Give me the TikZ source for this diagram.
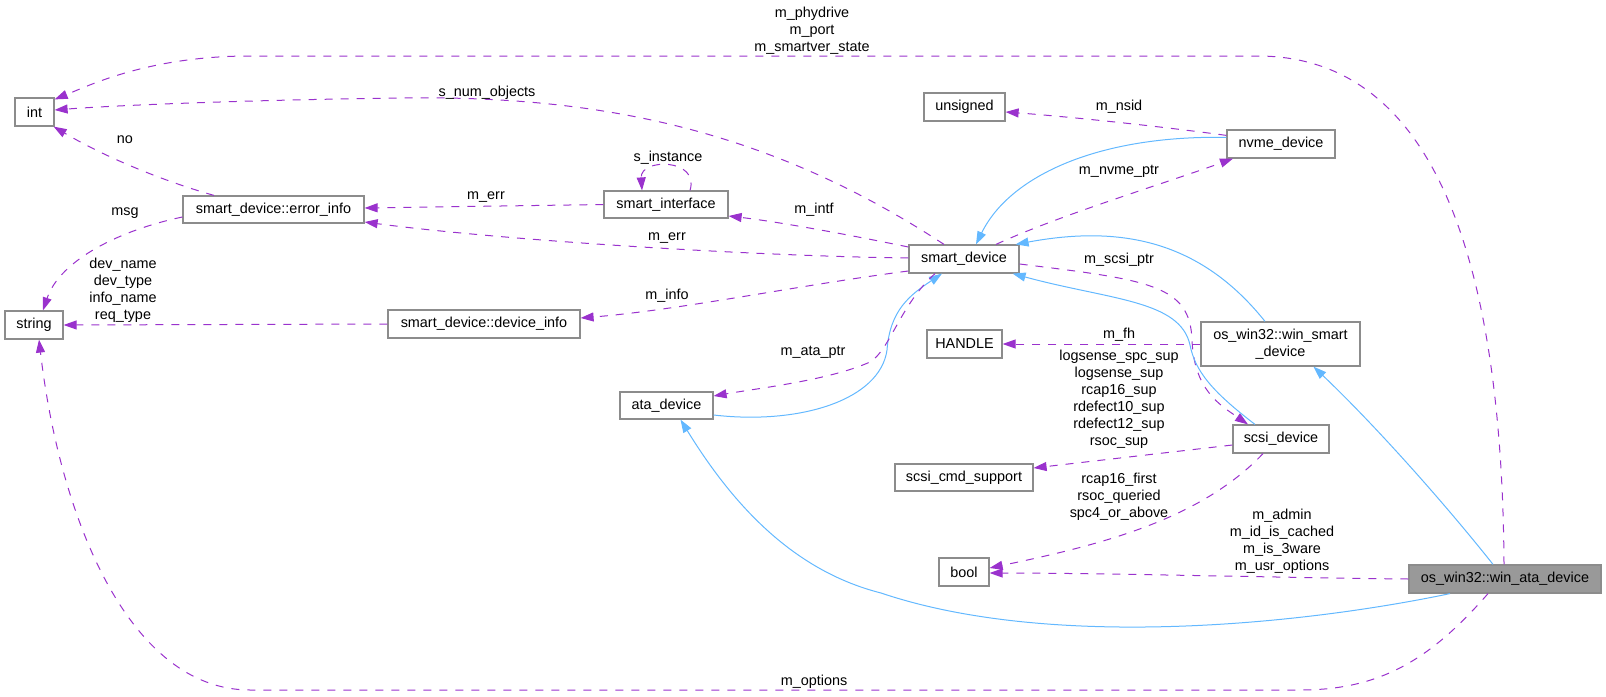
\documentclass[tikz,border=0pt]{standalone}
\usepackage{fontspec}
\setmainfont{Liberation Sans}
\usetikzlibrary{arrows.meta}
\definecolor{purp}{HTML}{9A32CD}
\definecolor{blu}{HTML}{63B8FF}
\definecolor{boxgray}{HTML}{8C8C8C}
\definecolor{rootfill}{HTML}{999999}
\newcommand{\nfont}{\fontsize{14.4}{17}\selectfont}
\tikzset{
  box/.style={draw=boxgray, fill=white, line width=1.2pt, inner sep=0pt, minimum height=28pt, font=\nfont, align=center},
  rootbox/.style={box, fill=rootfill},
  dep/.style={draw=purp, line width=1pt, dash pattern=on 8pt off 8pt, -{Triangle[length=13pt,width=9pt,fill=purp]}},
  inh/.style={draw=blu, line width=1pt, -{Triangle[length=13pt,width=9pt,fill=blu]}},
  lab/.style={font=\nfont, align=center, inner sep=0pt}
}
\begin{document}
\begin{tikzpicture}[x=1pt,y=-1pt]
\useasboundingbox (0,0) rectangle (1606,696);
% nodes
\node[box, minimum width=39pt] (int) at (34.5,112) {int};
\node[box, minimum width=58pt] (string) at (34,325) {string};
\node[box, minimum width=181pt, minimum height=27pt] (errinfo) at (273.5,209.5) {smart\_device::error\_info};
\node[box, minimum width=192pt] (devinfo) at (484,324) {smart\_device::device\_info};
\node[box, minimum width=81pt] (unsigned) at (964.5,107) {unsigned};
\node[box, minimum width=124pt, minimum height=27pt] (smartif) at (666,204.5) {smart\_interface};
\node[box, minimum width=110pt] (smartdev) at (964,259) {smart\_device};
\node[box, minimum width=75pt] (handle) at (964.5,344) {HANDLE};
\node[box, minimum width=108pt] (nvme) at (1281,144) {nvme\_device};
\node[box, minimum width=159pt, minimum height=44pt] (winsmart) at (1280.5,344) {os\_win32::win\_smart\\\_device};
\node[box, minimum width=93pt, minimum height=27pt] (atadev) at (666.5,405.5) {ata\_device};
\node[box, minimum width=138pt, minimum height=27pt] (scsicmd) at (964,477.5) {scsi\_cmd\_support};
\node[box, minimum width=50pt] (bool) at (964,572) {bool};
\node[box, minimum width=96pt] (scsidev) at (1281,439) {scsi\_device};
\node[rootbox, minimum width=192pt] (winata) at (1505,579) {os\_win32::win\_ata\_device};

% edges
\draw[dep] ([xshift=-1pt]winata.north) .. controls (1502,250) and (1430,58) .. (1260,56) -- (250,56) .. controls (150,56) and (90,85) .. ([yshift=-2pt]int.north east);
\draw[dep] ([xshift=-20pt]smartdev.north) .. controls (770,130) and (600,95) .. (400,98) .. controls (250,100) and (120,105) .. ([yshift=2pt]int.east);
\draw[dep] ([xshift=-59.5pt]errinfo.north) .. controls (170,183) and (110,160) .. ([xshift=-1pt]int.south east);
\draw[dep] ([yshift=-7.5pt]errinfo.west) .. controls (120,230) and (60,260) .. ([xshift=9pt]string.north);
\draw[dep] (devinfo.west) -- (string.east);
\draw[dep] (smartif.west) -- ([yshift=1.5pt]errinfo.east);
\draw[dep] ([yshift=1pt]smartdev.west) .. controls (750,256) and (500,240) .. ([yshift=-12.5pt]errinfo.east);
\draw[dep] ([xshift=24pt]smartif.north) .. controls (700,158) and (640,158) .. ([xshift=-24pt]smartif.north);
\draw[dep] ([yshift=12pt]smartdev.west) .. controls (850,235) and (780,222) .. ([yshift=-11.5pt]smartif.east);
\draw[dep] ([yshift=-12pt]smartdev.west) .. controls (800,285) and (680,310) .. ([yshift=6pt]devinfo.east);
\draw[dep] ([yshift=-6pt]nvme.north west) .. controls (1150,125) and (1060,116) .. ([yshift=-5pt]unsigned.east);
\draw[inh] ([yshift=-8pt]nvme.north west) .. controls (1100,135) and (1010,175) .. ([xshift=12pt]smartdev.north);
\draw[dep] ([xshift=32pt]smartdev.north) .. controls (1060,215) and (1160,185) .. ([xshift=-48pt]nvme.south);
\draw[inh] ([xshift=-15.5pt]winsmart.north) .. controls (1200,240) and (1120,225) .. ([xshift=-4pt]smartdev.north east);
\draw[dep] ([yshift=-5pt]smartdev.east) .. controls (1150,280) and (1190,285) .. (1192,340) .. controls (1194,390) and (1220,405) .. ([xshift=-33pt]scsidev.north);
\draw[inh] ([xshift=-26pt]scsidev.north) .. controls (1210,390) and (1195,370) .. (1190,345) .. controls (1180,300) and (1110,300) .. ([xshift=-7pt]smartdev.south east);
\draw[dep] (winsmart.west) -- (handle.east);
\draw[dep] ([yshift=-6pt]scsidev.west) -- ([yshift=9.5pt]scsicmd.east);
\draw[dep] ([xshift=-18pt]scsidev.south) .. controls (1200,520) and (1100,545) .. ([yshift=4pt]bool.east);
\draw[dep] (winata.west) .. controls (1300,578) and (1100,573) .. ([yshift=-1pt]bool.east);
\draw[inh] ([yshift=-9.5pt]atadev.east) .. controls (800,425) and (880,400) .. (887,350) .. controls (890,310) and (910,295) .. ([xshift=-22pt]smartdev.south);
\draw[dep] ([xshift=-29pt]smartdev.south) .. controls (900,305) and (890,350) .. (870,362) .. controls (830,380) and (760,388) .. ([yshift=9.5pt]atadev.east);
\draw[inh] ([xshift=-55pt]winata.south) .. controls (1300,625) and (1050,650) .. (881,593) .. controls (790,570) and (730,500) .. ([xshift=14pt]atadev.south);
\draw[inh] ([xshift=-12pt]winata.north) .. controls (1450,510) and (1380,430) .. ([xshift=33pt]winsmart.south);
\draw[dep] ([xshift=-17pt]winata.south) .. controls (1430,660) and (1380,690) .. (1300,690) -- (250,690) .. controls (130,690) and (60,520) .. ([xshift=5pt]string.south);

% labels
\node[lab] (l1) at (812,31) {m\_phydrive\\m\_port\\m\_smartver\_state};
\node[lab] (l2) at (487,93) {s\_num\_objects};
\node[lab] (l3) at (125,140) {no};
\node[lab] (l4) at (125,213) {msg};
\node[lab] (l5) at (123,290.5) {dev\_name\\dev\_type\\info\_name\\req\_type};
\node[lab] (l6) at (486,197) {m\_err};
\node[lab] (l7) at (667,238) {m\_err};
\node[lab] (l8) at (668,158) {s\_instance};
\node[lab] (l9) at (814,210) {m\_intf};
\node[lab] (l10) at (667,296) {m\_info};
\node[lab] (l11) at (1119,107) {m\_nsid};
\node[lab] (l12) at (1119,171) {m\_nvme\_ptr};
\node[lab] (l13) at (1119,260) {m\_scsi\_ptr};
\node[lab] (l14) at (1119,335) {m\_fh};
\node[lab] (l15) at (1119,399.5) {logsense\_spc\_sup\\logsense\_sup\\rcap16\_sup\\rdefect10\_sup\\rdefect12\_sup\\rsoc\_sup};
\node[lab] (l16) at (1119,497) {rcap16\_first\\rsoc\_queried\\spc4\_or\_above};
\node[lab] (l17) at (1282,541.5) {m\_admin\\m\_id\_is\_cached\\m\_is\_3ware\\m\_usr\_options};
\node[lab] (l18) at (813,352) {m\_ata\_ptr};
\node[lab] (l19) at (814,682) {m\_options};
\end{tikzpicture}
\end{document}
